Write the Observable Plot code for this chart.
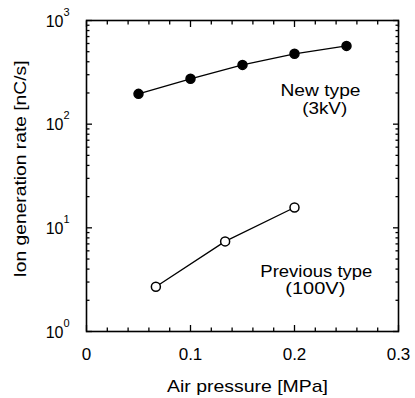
<!DOCTYPE html>
<html>
<head>
<meta charset="utf-8">
<script src="https://cdn.jsdelivr.net/npm/d3@7"></script>
<script src="https://cdn.jsdelivr.net/npm/@observablehq/plot@0.6"></script>
<style>
  html, body { margin: 0; padding: 0; background: #fff; }
</style>
</head>
<body>
<div id="chart"></div>
<script>
// Data
const newX = [0.05, 0.10, 0.15, 0.20, 0.25];
const newY = [196, 274, 373, 477, 569];
const prevX = [0.0667, 0.1333, 0.20];
const prevY = [2.7, 7.4, 15.7];

// Ticks and labels
const xMajor = [0, 0.1, 0.2, 0.3];
const xMajorLabels = ["0", "0.1", "0.2", "0.3"];
const xMinor = [0.02, 0.04, 0.06, 0.08, 0.12, 0.14, 0.16, 0.18, 0.22, 0.24, 0.26, 0.28];
const yMajor = [1, 10, 100, 1000];
const yBase = ["10", "10", "10", "10"];
const yExp = ["0", "1", "2", "3"];
const yMinorMult = [2, 3, 4, 5, 6, 7, 8, 9];
const yMinor = [1, 10, 100].flatMap(d => yMinorMult.map(m => d * m));

const xTitle = "Air pressure [MPa]";
const yTitle = "Ion generation rate [nC/s]";
const newLabel = ["New type", "(3kV)"];
const prevLabel = ["Previous type", "(100V)"];

const newData = newX.map((x, i) => ({x, y: newY[i]}));
const prevData = prevX.map((x, i) => ({x, y: prevY[i]}));

const font = "'Liberation Sans', Arial, Helvetica, sans-serif";

// rendered widths of the wider-set texts in the reference (styling)
const textWidths = new Map([
  [xTitle, 161], [yTitle, 217],
  [newLabel[0], 80], [newLabel[1], 45],
  [prevLabel[0], 112], [prevLabel[1], 60]
]);

const chart = Plot.plot({
  width: 415,
  height: 398,
  marginLeft: 86,
  marginRight: 17,
  marginTop: 20,
  marginBottom: 67,
  style: {fontFamily: font, fontSize: "17px", color: "#000", background: "#fff"},
  x: {domain: [0, 0.3], label: null},
  y: {type: "log", domain: [1, 1000], label: null},
  marks: [
    Plot.frame({stroke: "#000", strokeWidth: 1.6}),
    // inward major/minor ticks on all sides
    Plot.axisX(xMajor, {anchor: "bottom", tickSize: -6, text: null, strokeWidth: 1.3}),
    Plot.axisX(xMinor, {anchor: "bottom", tickSize: -3.5, text: null, strokeWidth: 1.3}),
    Plot.axisX(xMajor, {anchor: "top", tickSize: -6, text: null, strokeWidth: 1.3}),
    Plot.axisX(xMinor, {anchor: "top", tickSize: -3.5, text: null, strokeWidth: 1.3}),
    Plot.axisY(yMajor, {anchor: "left", tickSize: -6, text: null, strokeWidth: 1.3}),
    Plot.axisY(yMinor, {anchor: "left", tickSize: -3.5, text: null, strokeWidth: 1.3}),
    Plot.axisY(yMajor, {anchor: "right", tickSize: -6, text: null, strokeWidth: 1.3}),
    Plot.axisY(yMinor, {anchor: "right", tickSize: -3.5, text: null, strokeWidth: 1.3}),
    // x tick labels
    Plot.axisX(xMajor, {anchor: "bottom", tickSize: 0, tickPadding: 16, tickFormat: (d, i) => xMajorLabels[i], fontSize: 17}),
    // y tick labels with superscript exponents
    Plot.text(yMajor, {y: d => d, frameAnchor: "left", text: yBase, textAnchor: "end", dx: -23, dy: 1, fontSize: 16}),
    Plot.text(yMajor, {y: d => d, frameAnchor: "left", text: yExp, textAnchor: "start", lineAnchor: "bottom", dx: -23, dy: -5, fontSize: 11}),
    // axis titles
    Plot.text([xTitle], {frameAnchor: "bottom", textAnchor: "middle", lineAnchor: "bottom", dx: 5, dy: 60, fontSize: 17}),
    Plot.text([yTitle], {frameAnchor: "left", textAnchor: "middle", lineAnchor: "bottom", rotate: -90, dx: -61, dy: -7, fontSize: 17}),
    // series
    Plot.line(newData, {x: "x", y: "y", stroke: "#000", strokeWidth: 1.3}),
    Plot.dot(newData, {x: "x", y: "y", r: 4.5, fill: "#000", stroke: "#000"}),
    Plot.line(prevData, {x: "x", y: "y", stroke: "#000", strokeWidth: 1.3}),
    Plot.dot(prevData, {x: "x", y: "y", r: 4.5, fill: "#fff", stroke: "#000", strokeWidth: 1.5}),
    // annotations (baselines in data coordinates)
    Plot.text([newLabel[0]], {x: () => 0.225, y: () => 187.7, lineAnchor: "bottom", fontSize: 17}),
    Plot.text([newLabel[1]], {x: () => 0.229, y: () => 124.6, lineAnchor: "bottom", fontSize: 17}),
    Plot.text([prevLabel[0]], {x: () => 0.221, y: () => 3.38, lineAnchor: "bottom", fontSize: 17}),
    Plot.text([prevLabel[1]], {x: () => 0.220, y: () => 2.3, lineAnchor: "bottom", fontSize: 17})
  ]
});

d3.select(chart).selectAll("text").each(function () {
  const w = textWidths.get(this.textContent);
  if (w) {
    this.setAttribute("textLength", w);
    this.setAttribute("lengthAdjust", "spacingAndGlyphs");
  }
});

document.getElementById("chart").appendChild(chart);
</script>
</body>
</html>
